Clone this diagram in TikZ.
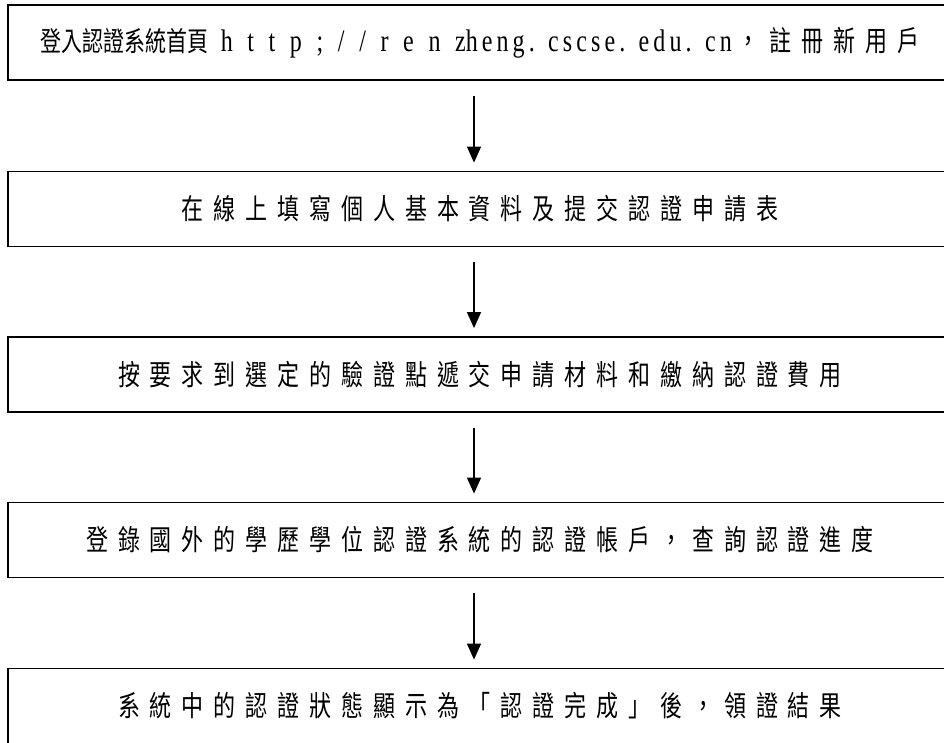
\documentclass[tikz,border=0pt]{standalone}
\usepackage{fontspec}
\usepackage{graphicx}
\usetikzlibrary{arrows.meta}
\newfontfamily\cjk{Noto Sans CJK TC}
\newfontfamily\cjkls[LetterSpace=45]{Noto Sans CJK TC}
\newfontfamily\latwide[LetterSpace=61]{Liberation Serif}
\newfontfamily\latnarrow[LetterSpace=17]{Liberation Serif}
\newcommand\tallbox[1]{\scalebox{1}[1.3]{#1}}
\begin{document}
\begin{tikzpicture}[x=1pt,y=1pt,
  stepbox/.style={draw, line width=1.8pt, minimum width=944pt, minimum height=75pt,
    inner sep=0pt, font=\cjkls\fontsize{22pt}{22pt}\selectfont},
  flow/.style={line width=1.3pt, -{Triangle[length=16pt,width=14pt]},
    shorten <=15pt, shorten >=8pt}]
\useasboundingbox (0,0) rectangle (944,-742);
\node[stepbox] (b1) at (480,-42.5) {\tallbox{{\cjk\fontsize{21pt}{21pt}\selectfont 登入認證系統首頁}\hspace{12pt}{\fontsize{24pt}{24pt}\latwide http;//renz\latnarrow heng. cscse. edu. cn}\hspace{6pt}{\cjkls ，註冊新用戶}}};
\node[stepbox] (b2) at (480,-209) {\tallbox{在線上填寫個人基本資料及提交認證申請表}};
\node[stepbox] (b3) at (480,-374.5) {\tallbox{按要求到選定的驗證點遞交申請材料和繳納認證費用}};
\node[stepbox] (b4) at (480,-540) {\tallbox{登錄國外的學歷學位認證系統的認證帳戶，查詢認證進度}};
\node[stepbox] (b5) at (480,-706) {\tallbox{系統中的認證狀態顯示為「認證完成」後，領證結果}};
\draw[flow] ([xshift=-6pt]b1.south) -- ([xshift=-6pt]b2.north);
\draw[flow] ([xshift=-6pt]b2.south) -- ([xshift=-6pt]b3.north);
\draw[flow] ([xshift=-6pt]b3.south) -- ([xshift=-6pt]b4.north);
\draw[flow] ([xshift=-6pt]b4.south) -- ([xshift=-6pt]b5.north);
\end{tikzpicture}
\end{document}
